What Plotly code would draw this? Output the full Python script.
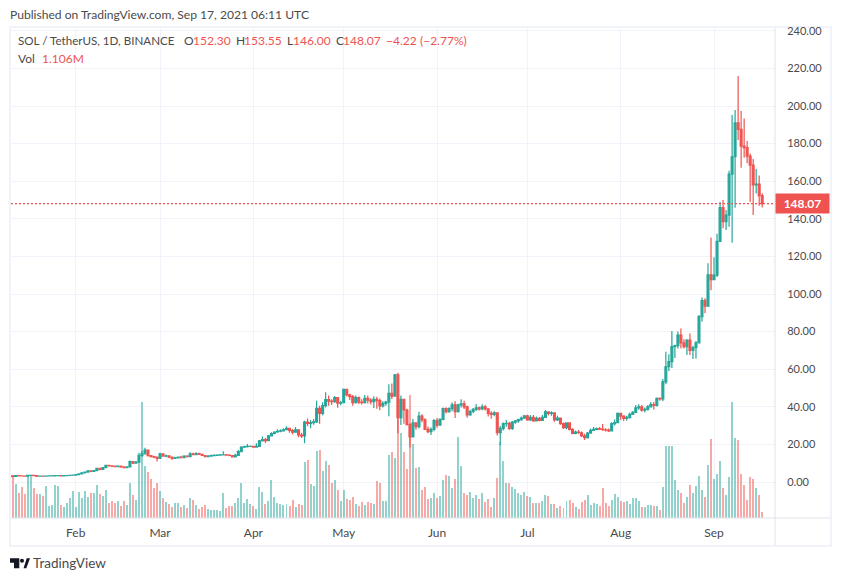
import pandas as pd
import plotly.graph_objects as go

FONT = 'Lato'
UP = '#26a69a'
DOWN = '#ef5350'
TEXT = '#4a4a4a'
FRAME = '#f0f3fa'
AXIS = '#e0e3eb'

start_date = '2021-01-11'
first_open = 3.3

# daily closes, one row per month (Jan 11 - Sep 17 2021)
closes = [
    3.0, 3.4, 3.3, 3.2, 3.1, 3.5, 3.6, 3.4, 3.1, 3.2, 3.1, 3.2, 3.25, 3.3, 3.35, 3.4, 3.3, 3.35, 3.45, 3.6, 3.7,
    3.9, 4.3, 4.9, 5.3, 5.9, 5.6, 6.0, 7.2, 6.7, 7.6, 8.8, 8.6, 8.4, 8.2, 8.4, 8.0, 7.6, 8.0, 10.8, 10.0, 10.6, 14.2, 15.0, 17.0, 14.0, 13.5, 13.2, 12.6,
    15.0, 13.7, 13.9, 13.2, 12.5, 12.8, 13.2, 13.0, 13.8, 13.5, 15.0, 14.6, 15.1, 14.7, 14.1, 13.5, 13.8, 14.0, 14.2, 14.3, 14.4, 14.5, 14.3, 14.1, 13.3, 14.2, 16.2, 18.5, 18.8, 18.9, 19.0,
    18.6, 19.0, 21.9, 22.5, 22.0, 24.5, 25.8, 26.6, 27.0, 27.2, 27.8, 28.5, 27.4, 26.5, 27.8, 25.0, 24.5, 31.8, 31.2, 31.6, 32.0, 39.2, 36.5, 40.6, 43.8, 43.0, 42.8, 44.9, 41.9, 42.2,
    49.3, 46.3, 45.4, 42.2, 44.9, 42.5, 42.2, 44.5, 43.5, 42.8, 44.0, 43.3, 40.5, 41.8, 42.5, 47.2, 45.7, 57.0, 34.2, 44.0, 38.3, 30.5, 24.0, 31.5, 29.4, 35.0, 33.0, 28.0, 26.8, 28.0, 32.6,
    30.3, 33.3, 39.0, 37.4, 39.0, 41.0, 37.4, 41.0, 41.6, 40.0, 35.7, 37.5, 38.6, 39.5, 38.9, 40.0, 38.9, 36.5, 36.0, 36.8, 26.2, 28.5, 31.0, 31.2, 28.5, 31.9, 32.5, 33.2, 34.0, 35.2,
    33.0, 34.4, 32.5, 33.9, 32.8, 34.4, 37.3, 36.5, 36.8, 33.0, 34.0, 31.0, 28.9, 31.4, 28.0, 25.9, 26.5, 26.2, 24.5, 23.6, 26.0, 27.5, 28.0, 28.4, 28.1, 27.8, 27.6, 27.2, 31.0, 31.6, 36.5,
    35.0, 33.8, 34.4, 36.0, 37.0, 39.4, 40.0, 38.2, 38.6, 40.0, 41.2, 40.7, 44.5, 44.2, 53.3, 61.3, 64.0, 72.0, 72.5, 78.2, 74.0, 72.0, 75.5, 70.0, 71.5, 74.0, 88.0, 96.5, 93.6, 110.2, 107.7,
    110.0, 128.0, 146.0, 138.5, 142.0, 163.8, 173.0, 191.0, 187.6, 178.7, 177.9, 173.3, 168.6, 158.0, 158.5, 152.3, 148.07,
]

highs = [
    3.4, 3.6, 3.5, 3.4, 3.3, 3.7, 3.8, 3.7, 3.5, 3.4, 3.3, 3.4, 3.4, 3.5, 3.5, 3.6, 3.5, 3.5, 3.6, 3.8, 3.9,
    4.1, 4.5, 5.1, 5.6, 6.2, 6.0, 6.3, 7.5, 7.3, 8.0, 9.2, 9.0, 8.8, 8.6, 8.8, 8.5, 8.1, 8.4, 11.5, 11.0, 11.2, 15.5, 16.5, 18.2, 17.2, 14.3, 14.0, 13.6,
    15.6, 15.2, 14.6, 14.2, 13.4, 13.4, 13.6, 13.9, 14.2, 14.2, 15.8, 15.6, 15.8, 15.5, 15.0, 14.4, 14.3, 14.6, 14.7, 14.7, 14.9, 16.4, 14.9, 14.8, 14.3, 15.0, 17.0, 19.0, 19.3, 20.2, 19.4,
    19.3, 20.6, 22.4, 24.2, 23.4, 25.0, 26.4, 27.0, 28.0, 28.0, 28.6, 29.6, 28.8, 28.2, 29.2, 28.0, 26.2, 32.6, 33.8, 33.0, 33.5, 43.2, 40.6, 42.4, 47.8, 46.0, 44.0, 45.8, 45.0, 43.2,
    49.8, 49.6, 47.0, 46.3, 46.0, 45.5, 44.0, 46.3, 46.0, 44.6, 45.6, 45.4, 44.4, 43.0, 43.2, 52.0, 52.4, 57.4, 58.1, 46.0, 44.0, 39.0, 31.2, 33.5, 31.8, 37.4, 36.0, 33.9, 29.5, 29.0, 33.5,
    34.0, 33.9, 39.6, 39.8, 39.8, 42.3, 43.0, 41.6, 44.0, 43.2, 40.6, 38.4, 39.4, 41.5, 40.2, 41.4, 41.0, 39.2, 37.6, 37.6, 36.9, 29.8, 31.6, 33.0, 32.0, 32.4, 33.0, 33.6, 34.8, 35.6,
    35.8, 35.7, 35.6, 34.8, 34.6, 35.6, 38.3, 37.6, 37.6, 37.0, 35.2, 32.6, 31.6, 31.8, 31.8, 28.6, 27.4, 27.6, 26.9, 25.6, 26.6, 28.4, 29.2, 29.0, 29.2, 30.8, 28.6, 28.4, 31.8, 33.2, 37.0,
    36.8, 35.5, 35.2, 36.8, 37.8, 41.0, 41.4, 41.0, 39.6, 40.9, 42.6, 42.5, 45.0, 45.0, 54.8, 69.3, 68.0, 80.3, 73.0, 80.0, 81.7, 76.0, 76.0, 79.0, 72.5, 75.0, 88.8, 98.2, 97.7, 116.3, 130.0,
    119.6, 132.0, 149.0, 150.0, 144.7, 165.6, 195.2, 197.9, 216.0, 197.3, 193.4, 181.4, 174.8, 171.8, 166.5, 163.0, 153.55,
]

lows = [
    2.4, 2.9, 3.1, 3.0, 2.9, 3.0, 3.3, 3.2, 2.7, 3.0, 2.9, 3.0, 3.1, 3.1, 3.2, 3.2, 3.1, 3.2, 3.2, 3.3, 3.5,
    3.6, 3.8, 4.2, 4.8, 5.2, 5.2, 5.4, 5.8, 6.2, 6.5, 7.4, 8.2, 8.0, 7.8, 8.0, 7.6, 7.3, 7.4, 7.8, 9.6, 9.8, 10.4, 13.4, 14.8, 13.6, 13.0, 12.6, 10.9,
    12.4, 13.4, 13.2, 12.8, 11.9, 12.3, 12.6, 12.7, 12.8, 13.1, 13.3, 14.2, 14.4, 14.4, 13.8, 13.2, 13.3, 13.6, 13.9, 14.0, 14.1, 14.2, 14.0, 13.7, 13.0, 13.1, 14.0, 16.0, 18.2, 18.4, 18.7,
    18.2, 18.4, 19.0, 21.6, 20.8, 21.8, 24.2, 25.4, 26.2, 26.4, 26.8, 27.6, 26.2, 25.4, 26.2, 23.8, 23.4, 20.6, 29.6, 28.6, 30.4, 31.4, 31.0, 35.5, 39.6, 40.6, 40.9, 42.2, 39.5, 40.8,
    41.9, 45.5, 43.6, 40.5, 41.8, 41.5, 41.2, 41.8, 41.8, 41.2, 39.3, 39.0, 38.2, 39.6, 40.6, 35.0, 44.2, 45.4, 25.9, 30.3, 31.0, 30.0, 18.3, 24.0, 27.8, 28.5, 31.8, 27.6, 25.9, 25.0, 27.0,
    28.9, 30.0, 32.8, 36.4, 36.8, 37.6, 34.0, 37.0, 39.6, 38.8, 34.2, 35.2, 36.6, 37.8, 38.0, 38.2, 38.0, 34.8, 33.6, 35.0, 24.8, 19.6, 27.4, 29.4, 27.6, 27.6, 31.0, 31.5, 32.6, 33.6,
    32.6, 32.4, 32.0, 32.2, 32.3, 32.6, 34.0, 35.4, 35.2, 32.0, 32.5, 30.4, 28.2, 28.0, 27.4, 25.4, 25.4, 25.6, 23.9, 22.4, 23.2, 26.6, 27.2, 27.8, 27.6, 27.2, 26.8, 26.6, 26.8, 30.0, 31.2,
    33.0, 32.4, 32.6, 33.6, 35.8, 36.6, 38.4, 37.4, 37.0, 38.0, 39.8, 38.5, 40.2, 43.2, 42.9, 52.0, 59.0, 60.6, 66.0, 71.0, 71.0, 71.0, 67.5, 67.5, 65.4, 65.7, 73.8, 85.3, 89.7, 93.6, 102.0,
    107.4, 109.0, 127.8, 135.0, 134.0, 135.8, 127.3, 145.9, 181.9, 167.2, 172.5, 169.5, 149.0, 142.0, 153.5, 147.0, 146.0,
]

# volume in millions
volumes = [
    7.75, 6.28, 4.62, 5.72, 4.43, 7.75, 7.75, 5.54, 4.43, 4.43, 4.06, 5.91, 2.22, 2.40, 6.09, 5.91, 2.40, 2.03, 2.77, 3.69, 4.98,
    2.03, 4.80, 3.69, 4.98, 3.88, 4.62, 4.62, 6.09, 4.43, 4.06, 5.17, 2.77, 3.14, 2.77, 3.14, 2.22, 3.14, 2.40, 6.46, 4.25, 3.32, 11.26, 21.41, 9.60, 8.49, 7.20, 5.54, 6.46,
    4.98, 3.69, 2.95, 2.58, 2.03, 2.77, 2.77, 2.03, 2.40, 1.85, 3.69, 3.32, 2.40, 1.66, 2.03, 2.40, 1.66, 1.48, 1.48, 1.48, 1.29, 4.62, 1.85, 2.22, 2.22, 2.77, 3.69, 6.46, 2.77, 3.51, 2.58,
    2.22, 1.66, 5.72, 4.80, 2.58, 3.14, 7.01, 3.88, 2.77, 2.58, 2.40, 2.58, 2.22, 3.32, 2.03, 2.58, 2.40, 10.34, 10.71, 6.28, 5.91, 12.37, 12.55, 8.68, 10.52, 9.78, 6.46, 7.01, 5.17, 3.14,
    5.17, 3.51, 3.32, 3.88, 2.58, 2.22, 2.95, 2.40, 2.95, 2.77, 2.58, 6.83, 6.46, 3.14, 3.14, 11.63, 12.18, 11.08, 18.46, 15.69, 12.18, 9.05, 22.71, 13.66, 9.23, 9.42, 5.17, 5.72, 3.51, 3.69, 4.62,
    3.69, 4.06, 7.01, 7.94, 7.75, 5.54, 7.20, 14.95, 9.60, 4.62, 4.25, 4.80, 3.69, 4.25, 3.51, 4.62, 2.95, 3.51, 2.03, 3.69, 7.38, 14.03, 10.52, 6.46, 6.46, 5.72, 5.35, 4.62, 4.25, 4.80,
    4.06, 3.88, 2.77, 2.77, 2.77, 3.14, 4.25, 4.06, 2.58, 2.58, 1.85, 2.22, 1.85, 3.14, 3.32, 2.77, 2.03, 1.66, 2.95, 3.32, 4.25, 2.40, 2.77, 2.58, 2.22, 5.54, 2.77, 2.22, 3.32, 4.43, 3.88,
    3.14, 2.95, 3.14, 2.58, 3.69, 3.69, 3.14, 2.03, 2.03, 2.40, 2.40, 2.22, 2.22, 1.48, 5.72, 13.29, 13.29, 13.29, 7.01, 5.17, 4.62, 2.77, 3.88, 6.09, 4.62, 5.91, 7.75, 5.17, 3.88, 9.78, 14.58,
    7.20, 8.12, 10.52, 5.54, 4.25, 7.57, 21.41, 14.77, 14.40, 8.12, 6.09, 3.32, 7.57, 7.20, 5.54, 4.25, 1.106,
]

price_ticks = [0, 20, 40, 60, 80, 100, 120, 140, 160, 180, 200, 220, 240]

dates = pd.date_range(start_date, periods=len(closes), freq='D')
opens = [first_open] + closes[:-1]
vol_colors = ['rgba(38,166,154,0.5)' if c >= o else 'rgba(239,83,80,0.5)'
              for o, c in zip(opens, closes)]
DAY_MS = 86400000


# page pixels to paper fractions, chrome around the plot is placed by pixel
def px(x):
    return (x - 11) / 764


def py(y):
    return (518 - y) / 490


def rect(x0, y0, x1, y1, color):
    return dict(type='rect', xref='paper', yref='paper', layer='below', line_width=0, fillcolor=color,
                x0=px(x0), y0=py(y0), x1=px(x1), y1=py(y1))


def seg(x0, y0, x1, y1, color):
    return dict(type='line', xref='paper', yref='paper', line=dict(color=color, width=1),
                x0=px(x0), y0=py(y0), x1=px(x1), y1=py(y1))


def poly(points):
    path = 'M' + ' L'.join('%.4f,%.4f' % (px(x), py(y)) for x, y in points) + ' Z'
    return dict(type='path', xref='paper', yref='paper', path=path, fillcolor='#131722', line_width=0)


fig = go.Figure()
fig.add_trace(go.Bar(x=dates, y=volumes, width=0.66 * DAY_MS, marker=dict(color=vol_colors, line_width=0),
                     yaxis='y', hoverinfo='skip'))
fig.add_trace(go.Candlestick(x=dates, open=opens, high=highs, low=lows, close=closes, yaxis='y2',
                             whiskerwidth=0, hoverinfo='skip',
                             increasing=dict(line=dict(color=UP, width=1.2), fillcolor=UP),
                             decreasing=dict(line=dict(color=DOWN, width=1.2), fillcolor=DOWN)))

shapes = [
    rect(9, 26, 832, 28, FRAME), rect(9, 545, 832, 547, FRAME),
    rect(9, 26, 11, 547, FRAME), rect(830, 26, 832, 547, FRAME),
    seg(775, 28, 775, 545, AXIS), seg(11, 518, 830, 518, AXIS),
    dict(type='line', xref='paper', yref='y2', x0=0, x1=1, y0=closes[-1], y1=closes[-1],
         line=dict(color=DOWN, width=1.3, dash='2px,2px')),
    # TradingView logo
    poly([(10, 558.3), (19.3, 558.3), (19.3, 568.3), (14, 568.3), (14, 562.7), (10, 562.7)]),
    dict(type='circle', xref='paper', yref='paper', x0=px(20), x1=px(24), y0=py(558.7), y1=py(562.7),
         fillcolor='#131722', line_width=0),
    poly([(23.5, 568.3), (26.7, 558.3), (30, 558.3), (26.3, 568.3)]),
]


def note(x, y, text, size=12, color=TEXT):
    return dict(xref='paper', yref='paper', x=px(x - 2), y=py(y), text=text, showarrow=False, xanchor='left',
                yanchor='middle', align='left', font=dict(family=FONT, size=size, color=color))


annotations = [
    note(10, 14, 'Published on TradingView.com, Sep 17, 2021 06:11 UTC', size=12.1),
    note(18, 41, 'SOL / TetherUS, 1D, BINANCE', size=11.6),
    note(184, 41, 'O'), note(193, 41, '152.30', color=DOWN),
    note(236, 41, 'H'), note(244, 41, '153.55', color=DOWN),
    note(287, 41, 'L'), note(293, 41, '146.00', color=DOWN),
    note(336, 41, 'C'), note(343, 41, '148.07', color=DOWN),
    note(386, 41, '\u22124.22', color=DOWN), note(420, 41, '(\u22122.77%)', color=DOWN),
    note(18, 59, 'Vol'), note(42, 59, '1.106M', color=DOWN),
    note(33, 563, 'TradingView', size=13.5),
    dict(xref='paper', yref='y2', x=1, y=closes[-1], text='<b>148.07</b>', showarrow=False, xanchor='left',
         yanchor='middle', width=51, height=17, bgcolor=DOWN, font=dict(family=FONT, size=12, color='white')),
]

fig.update_layout(
    width=841, height=581, showlegend=False, paper_bgcolor='white', plot_bgcolor='white',
    margin=dict(l=11, r=66, t=28, b=63), bargap=0, boxgap=0.12, shapes=shapes, annotations=annotations,
    font=dict(family=FONT, size=11, color=TEXT),
    xaxis=dict(type='date', range=['2021-01-10 12:00', '2021-09-21 06:00'], dtick='M1', tick0='2021-01-01',
               tickformat='%b', tickfont=dict(size=12), showgrid=True, gridcolor=FRAME, gridwidth=1, zeroline=False,
               ticks='outside', ticklen=4, tickcolor='rgba(0,0,0,0)', rangeslider=dict(visible=False)),
    yaxis=dict(range=[0, 90.45], visible=False, showgrid=False),
    yaxis2=dict(range=[-19.15, 241.5], overlaying='y', side='right', tickvals=price_ticks, tickformat='.2f',
                showgrid=True, gridcolor=FRAME, gridwidth=1, zeroline=False, ticks='outside', ticklen=9,
                tickcolor='rgba(0,0,0,0)'),
)

fig.write_html("out.html", config=dict(displayModeBar=False), post_script="document.body.style.margin = '0';")
